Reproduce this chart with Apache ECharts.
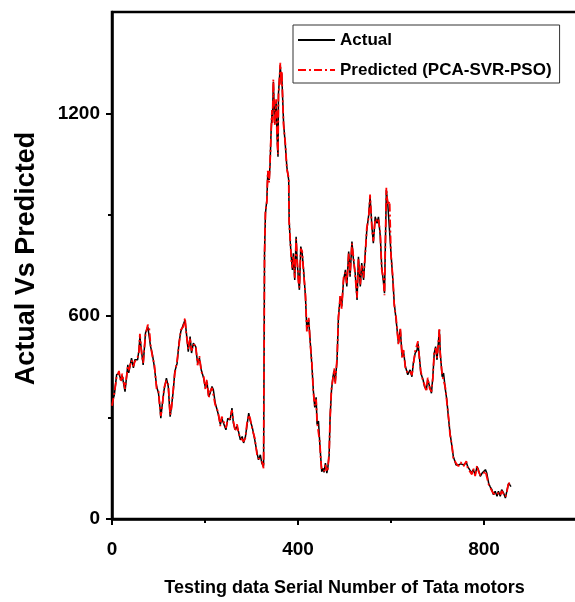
<!DOCTYPE html>
<html>
<head>
<meta charset="utf-8">
<script src="https://cdn.jsdelivr.net/npm/echarts/dist/echarts.min.js"></script>
<style>
  html, body { margin: 0; padding: 0; background: #fff; }
  #chart { width: 575px; height: 602px; }
</style>
</head>
<body>
<div id="chart"></div>
<script>
// serial number of the test sample (x)
const serial = [0,5,10,15,19,22,28,34,36,42, 46,49,55,58,60,64,67,72,77,80,
  83,87,91,96,100,103,105,108,112,117, 121,125,128,132,135,140,144,148,153,157,
  160,164,168,171,175,180,184,188,192,197, 201,204,208,211,215,218,222,228,233,236,
  240,245,249,254,258,261,265,269,272,276, 280,283,287,290,294,297,302,307,312,315,
  319,322,326,328,330,333,335,338,340,342, 344,345,347,350,353,355,357,358,362,364,
  365,369,373,376,380,381,383,386,388,390, 393,396,398,401,403,406,409,412,416,419,
  423,426,430,433,436,439,441,444,447,449, 451,454,456,459,462,464,467,469,472,475,
  478,480,484,487,491,494,498,502,505,509, 512,516,519,523,527,530,534,537,541,545,
  548,552,555,559,562,566,570,573,577,580, 584,586,590,593,597,600,604,607,611,616,
  620,624,627,631,636,641,645,648,652,656, 658,661,664,669,672,676,679,683,687,690,
  693,696,699,702,704,706,710,713,717,720, 724,727,731,734,740,745,750,756,762,765,
  769,774,777,781,785,788,792,796,799,803, 806,810,813,817,820,824,828,831,835,838,
  842,846,849,853,856,858];

const actual = [343,367,427,431,412,424,377,456,432,476, 447,471,471,500,540,491,456,550,569,571,
  510,486,451,392,372,333,298,338,382,417, 392,303,333,382,436,461,520,555,574,589,
  550,495,540,491,520,510,461,476,441,417, 387,407,362,372,392,382,343,313,279,298,
  303,264,298,293,328,284,264,274,259,234, 244,225,244,274,313,293,269,234,195,175,
  190,166,155,786,904,944,1023,1003,1052,1141, 1200,1180,1293,1171,1234,1131,1072,1259,1343,1289,
  1318,1171,1101,1042,1003,885,826,767,737,786, 707,835,767,707,678,806,786,737,658,560,
  589,530,451,380,330,360,280,290,220,180, 140,150,138,165,136,150,190,300,380,420,
  440,405,470,600,658,628,707,737,688,791, 717,821,771,727,648,776,688,757,707,796,
  855,899,954,865,816,894,875,894,835,747, 698,668,973,934,934,786,707,638,589,520,
  560,481,495,451,427,441,421,461,491,500, 520,481,432,412,392,382,412,392,372,421,
  491,510,471,525,560,491,421,432,382,353, 293,254,215,185,160,160,163,160,167,155,
  146,136,146,131,155,146,126,136,131,146, 136,106,96,87,72,82,67,82,67,87,
  77,62,82,106,101,96];

const predicted = [335,372,420,438,405,430,385,450,440,470, 452,465,478,495,548,485,462,545,575,565,
  515,480,458,385,378,328,305,332,388,410, 398,308,328,388,430,468,515,560,568,595,
  545,502,535,498,515,515,455,482,436,422, 382,412,358,378,388,388,338,318,275,303,
  298,270,293,298,322,290,260,280,255,240, 238,230,240,280,308,298,264,240,190,180,
  185,172,150,780,910,938,1030,996,1060,1135, 1210,1172,1300,1165,1242,1125,1080,1252,1350,1280,
  1325,1165,1108,1035,1010,878,832,760,744,780, 714,828,774,700,685,800,792,730,664,555,
  595,525,458,375,336,354,286,284,226,175, 145,146,142,160,140,146,196,295,386,414,
  446,400,476,594,664,622,714,730,694,785, 724,815,778,720,655,770,694,750,714,790,
  862,892,960,858,822,888,882,888,842,740, 705,662,980,928,940,780,714,632,595,515,
  566,476,500,446,432,436,426,456,497,495, 526,476,438,406,398,377,418,387,377,416,
  497,505,477,520,566,486,427,427,388,348, 298,249,220,180,165,156,168,156,171,150,
  151,132,150,127,158,142,130,132,135,142, 140,102,100,83,76,78,71,78,71,83,
  80,66,78,110,98,100];

const xTicks = [0, 400, 800];
const yTicks = [0, 600, 1200];

const font = "'Liberation Sans', Arial, sans-serif";

let chart = echarts.init(document.getElementById('chart'), null, {renderer: 'canvas'});

let option = {
    animation: false,
    backgroundColor: '#fff',
    grid: {
        left: 112, top: 12, right: -2, bottom: 83,
        outerBoundsMode: 'none',
        show: true, borderColor: '#000', borderWidth: 2.5
    },
    legend: {
        orient: 'vertical',
        left: 293, top: 25,
        padding: [3, 8, 1, 4],
        itemGap: 6,
        itemWidth: 37, itemHeight: 14,
        borderColor: '#333', borderWidth: 1, borderRadius: 0,
        backgroundColor: '#fff',
        itemStyle: {opacity: 0},
        textStyle: {fontSize: 17, fontWeight: 'bold', fontFamily: font, color: '#000', lineHeight: 24},
        data: ['Actual', 'Predicted (PCA-SVR-PSO)']
    },
    xAxis: {
        type: 'value', min: 0, max: 1000, interval: 400,
        name: 'Testing data Serial Number of Tata motors',
        nameLocation: 'middle', nameGap: 60,
        nameTextStyle: {fontSize: 18, fontWeight: 'bold', fontFamily: font, color: '#000'},
        axisLine: {show: true, lineStyle: {color: '#000', width: 2.5}},
        axisTick: {show: true, length: 6, customValues: xTicks, lineStyle: {color: '#000', width: 2}},
        minorTick: {show: true, splitNumber: 2, length: 4, lineStyle: {color: '#000', width: 2}},
        splitLine: {show: false},
        axisLabel: {customValues: xTicks, fontSize: 19, fontWeight: 'bold', fontFamily: font, color: '#000', margin: 21,
            formatter: v => String(v)}
    },
    yAxis: {
        type: 'value', min: 0, max: 1500, interval: 600,
        name: 'Actual Vs Predicted',
        nameLocation: 'middle', nameGap: 72,
        nameTextStyle: {fontSize: 27, fontWeight: 'bold', fontFamily: font, color: '#000', padding: [0, 0, 0, 14]},
        axisLine: {show: true, lineStyle: {color: '#000', width: 2.5}},
        axisTick: {show: true, length: 6, customValues: yTicks, lineStyle: {color: '#000', width: 2}},
        minorTick: {show: true, splitNumber: 2, length: 4, lineStyle: {color: '#000', width: 2}},
        splitLine: {show: false},
        axisLabel: {customValues: yTicks, fontSize: 19, fontWeight: 'bold', fontFamily: font, color: '#000', margin: 12,
            formatter: v => String(v)}
    },
    series: [{
        name: 'Actual',
        type: 'line',
        symbol: 'none',
        lineStyle: {color: '#000', width: 1.5},
        itemStyle: {color: '#000'},
        data: serial.map((s, i) => [s, actual[i]])
    }, {
        name: 'Predicted (PCA-SVR-PSO)',
        type: 'line',
        symbol: 'none',
        lineStyle: {color: '#ff0000', width: 1.8, type: [8, 3, 2, 3]},
        itemStyle: {color: '#ff0000'},
        data: serial.map((s, i) => [s, predicted[i]])
    }]
};

chart.setOption(option);
</script>
</body>
</html>
